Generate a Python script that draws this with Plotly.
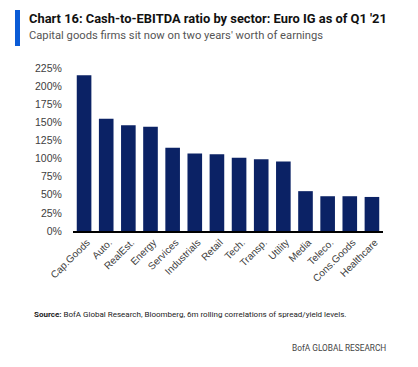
import plotly.graph_objects as go

sectors = ["Cap.Goods", "Auto.", "RealEst.", "Energy", "Services", "Industrials",
           "Retail", "Tech.", "Transp.", "Utility", "Media", "Teleco.",
           "Cons.Goods", "Healthcare"]
ratio_pct = [215, 155, 146, 144, 115, 107, 106, 101, 99, 96, 55, 48, 48, 47]
y_ticks = [0, 25, 50, 75, 100, 125, 150, 175, 200, 225]
y_tick_labels = [f"{v}%" for v in y_ticks]

W, H = 418, 367
OFF = 8  # page body margin compensation
L, R, T, B = 73 - OFF, 35 + OFF, 68 - OFF, 136 + OFF

fig = go.Figure(go.Bar(
    x=sectors, y=ratio_pct,
    marker=dict(color="#0B2265", line=dict(width=0)),
    hoverinfo="skip",
))

fig.update_layout(
    width=W, height=H,
    margin=dict(l=L, r=R, t=T, b=B, autoexpand=False),
    paper_bgcolor="white", plot_bgcolor="white",
    bargap=0.34,
    showlegend=False,
    font=dict(family="Liberation Sans, Arial, sans-serif", size=11, color="#3a3a3a"),
    xaxis=dict(
        tickangle=-45, showgrid=False, zeroline=False,
        showline=True, linecolor="black", linewidth=1.5,
        ticks="", automargin=False,
        ticklabelshift=3,
        tickfont=dict(size=10, color="#404040"),
    ),
    yaxis=dict(
        range=[0, 225], tickvals=y_ticks, ticktext=y_tick_labels,
        showgrid=False, zeroline=False, showline=False,
        ticks="outside", ticklen=8, tickcolor="rgba(0,0,0,0)",
        automargin=False,
        tickfont=dict(size=10.5, color="#404040"),
    ),
)

def px(x, y):
    x -= OFF
    y -= OFF
    return (x - L) / (W - L - R), (H - B - y) / (H - T - B)

# accent bar next to title
x0, y0 = px(15, 46)
x1, y1 = px(20, 10)
fig.add_shape(type="rect", xref="paper", yref="paper",
              x0=x0, x1=x1, y0=y0, y1=y1,
              fillcolor="#0A5BD6", line=dict(width=0), layer="above")

ax, ay = px(27, 18)
fig.add_annotation(x=ax, y=ay, xref="paper", yref="paper", xanchor="left", yanchor="middle",
                   text="<b>Chart 16: Cash-to-EBITDA ratio by sector: Euro IG as of Q1 '21</b>",
                   showarrow=False,
                   font=dict(family="Roboto, sans-serif", size=12.9, color="#111111"))
ax, ay = px(27, 35)
fig.add_annotation(x=ax, y=ay, xref="paper", yref="paper", xanchor="left", yanchor="middle",
                   text="Capital goods firms sit now on two years' worth of earnings",
                   showarrow=False,
                   font=dict(family="Roboto, sans-serif", size=11.2, color="#555555"))
ax, ay = px(32, 314)
fig.add_annotation(x=ax, y=ay, xref="paper", yref="paper", xanchor="left", yanchor="middle",
                   text="<b>Source:</b> BofA Global Research, Bloomberg, 6m rolling correlations of spread/yield levels.",
                   showarrow=False,
                   font=dict(family="Roboto, sans-serif", size=8, color="#222222"))
ax, ay = px(388, 348)
fig.add_annotation(x=ax, y=ay, xref="paper", yref="paper", xanchor="right", yanchor="middle",
                   text="BofA GLOBAL RESEARCH",
                   showarrow=False,
                   font=dict(family="Roboto, sans-serif", size=8.3, color="#444444"))

fig.write_html("out.html")
